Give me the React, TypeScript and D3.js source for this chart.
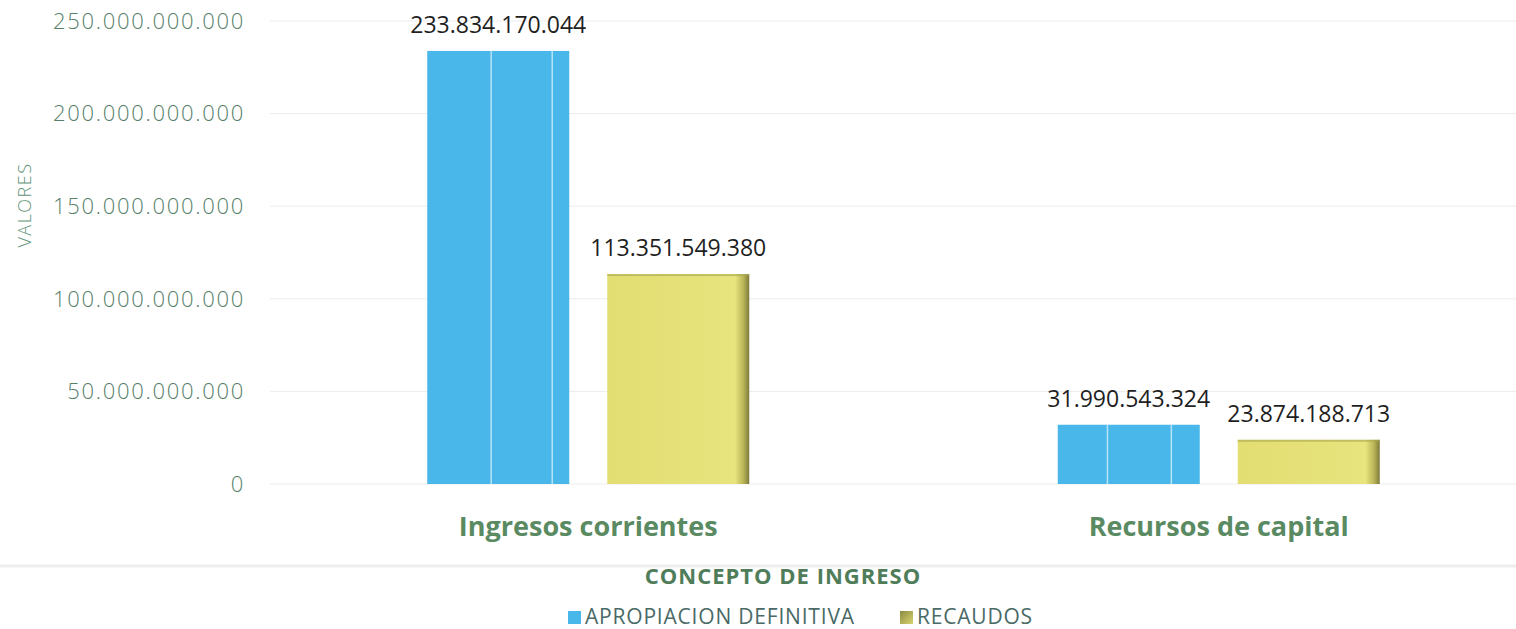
import React from "react";
import * as d3 from "d3";

const categories = ["Ingresos corrientes", "Recursos de capital"];
const seriesNames = ["APROPIACION DEFINITIVA", "RECAUDOS"];
const apropiacion = [233834170044, 31990543324];
const recaudos = [113351549380, 23874188713];
const yTicks = [0, 50000000000, 100000000000, 150000000000, 200000000000, 250000000000];

const W = 1516;
const H = 629;
const FONT = "'Open Sans', Lato, sans-serif";
const COLORS = ["#49b7ea", "#e6e27a"];

const fmt = (v: number) => {
  const s = Math.round(v).toString();
  return s.replace(/\B(?=(\d{3})+(?!\d))/g, ".");
};

export default function App() {
  const x0 = d3.scaleBand<string>().domain(categories).range([273, 1534]).paddingInner(0).paddingOuter(0);
  const y = d3.scaleLinear().domain([0, 250000000000]).range([484, 21]);
  const bw = 142;
  const gap = 38;
  const series = [apropiacion, recaudos];

  return (
    <svg width={W} height={H} style={{ display: "block", position: "absolute", left: 0, top: 0, background: "#fff" }}>
      <defs>
        <linearGradient id="yshade" x1="0" x2="1" y1="0" y2="0">
          <stop offset="0" stopColor="#e2de72" />
          <stop offset="0.9" stopColor="#e8e47e" />
          <stop offset="0.96" stopColor="#b9b456" />
          <stop offset="1" stopColor="#7d7a3a" />
        </linearGradient>
        <linearGradient id="lshade" x1="0" x2="1" y1="0" y2="1">
          <stop offset="0" stopColor="#8a8a40" />
          <stop offset="1" stopColor="#d8d470" />
        </linearGradient>
      </defs>
      {yTicks.map((t) => (
        <g key={t}>
          <line x1={270} x2={W} y1={y(t)} y2={y(t)} stroke="#ececec" strokeWidth={1} />
          <text x={245} y={y(t)} dy="0.35em" textAnchor="end" fontFamily={FONT} fontSize={22} fontWeight={300} letterSpacing={1.7} fill="#56806a">
            {fmt(t)}
          </text>
        </g>
      ))}
      <line x1={0} x2={W} y1={566} y2={566} stroke="#eeeeee" strokeWidth={3} />
      <text
        transform={`translate(31,${205}) rotate(-90)`}
        textAnchor="middle"
        fontFamily={FONT}
        fontSize={18}
        fontWeight={300}
        letterSpacing={1.5}
        fill="#5f9478"
      >
        VALORES
      </text>
      {categories.map((c, i) => {
        const cx = (x0(c) as number) + x0.bandwidth() / 2;
        return (
          <g key={c}>
            {series.map((s, j) => {
              const bx = cx - gap / 2 - bw + j * (bw + gap);
              const top = y(s[i]);
              const h = y(0) - top;
              return (
                <g key={j}>
                  <rect x={bx} y={top} width={bw} height={h} fill={j === 0 ? COLORS[0] : "url(#yshade)"} />
                  {j === 1 && <rect x={bx} y={top} width={bw} height={2} fill="#a9a64e" opacity={0.6} />}
                  {j === 0 && (
                    <>
                      <line x1={bx + bw * (i === 0 ? 0.45 : 0.35)} x2={bx + bw * (i === 0 ? 0.45 : 0.35)} y1={top} y2={y(0)} stroke="#b8e4f7" strokeWidth={1.5} />
                      <line x1={bx + bw * (i === 0 ? 0.88 : 0.8)} x2={bx + bw * (i === 0 ? 0.88 : 0.8)} y1={top} y2={y(0)} stroke="#b8e4f7" strokeWidth={1.5} />
                    </>
                  )}
                  <text
                    x={bx + bw / 2}
                    y={top - 18}
                    textAnchor="middle"
                    fontFamily={FONT}
                    fontSize={23}
                    fill="#1f1f1f"
                  >
                    {fmt(s[i])}
                  </text>
                </g>
              );
            })}
            <text x={cx} y={536} textAnchor="middle" fontFamily={FONT} fontWeight="bold" fontSize={27} fill="#5a8a62">
              {c}
            </text>
          </g>
        );
      })}
      <text x={783} y={584} textAnchor="middle" fontFamily={FONT} fontWeight="bold" fontSize={22} letterSpacing={1} fill="#4f7d5a">
        CONCEPTO DE INGRESO
      </text>
      <g>
        <rect x={568} y={611} width={13} height={13} fill={COLORS[0]} />
        <text x={585} y={624} fontFamily={FONT} fontSize={21} letterSpacing={0.8} fill="#4a6a66">
          {seriesNames[0]}
        </text>
        <rect x={900} y={611} width={13} height={13} fill="url(#lshade)" />
        <text x={917} y={624} fontFamily={FONT} fontSize={21} letterSpacing={0.8} fill="#4a6a66">
          {seriesNames[1]}
        </text>
      </g>
    </svg>
  );
}
